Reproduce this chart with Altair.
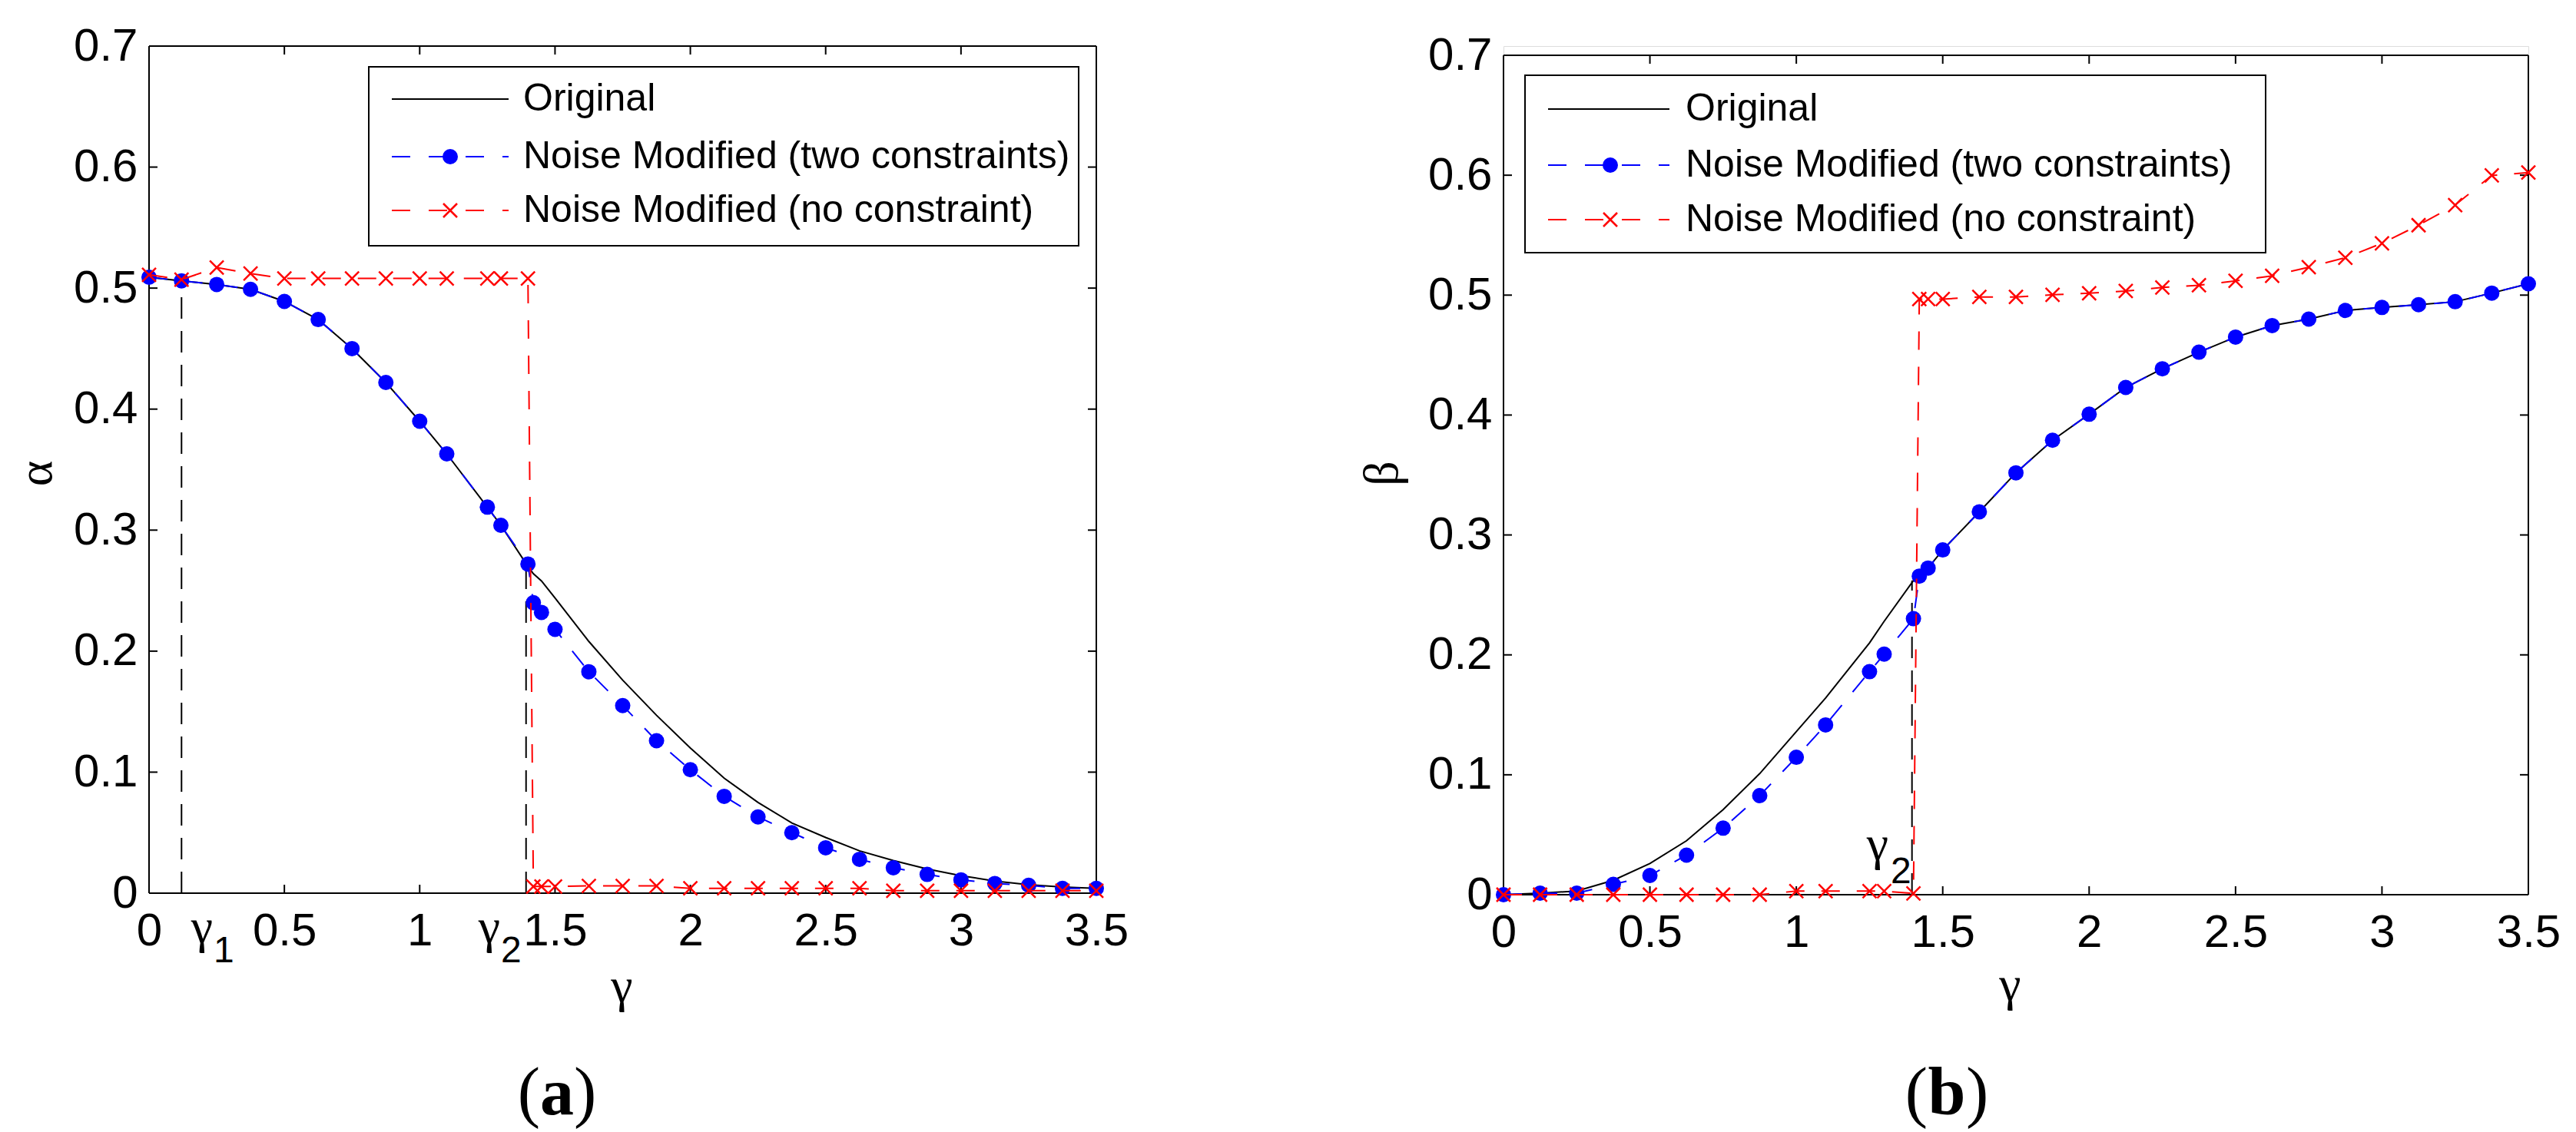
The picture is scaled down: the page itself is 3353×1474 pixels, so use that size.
import altair as alt
import pandas as pd

# ---------------- data ----------------
gamma_a = [0, 0.12, 0.25, 0.375, 0.5, 0.625, 0.75, 0.875, 1.0, 1.1, 1.25, 1.3, 1.4,
           1.42, 1.45, 1.5, 1.625, 1.75, 1.875, 2.0, 2.125, 2.25, 2.375, 2.5,
           2.625, 2.75, 2.875, 3.0, 3.125, 3.25, 3.375, 3.5]
alpha_original = [0.509, 0.506, 0.503, 0.499, 0.489, 0.474, 0.450, 0.422, 0.390, 0.363, 0.319, 0.304, 0.270,
                  0.264, 0.258, 0.244, 0.208, 0.176, 0.147, 0.120, 0.095, 0.075, 0.058, 0.046,
                  0.035, 0.027, 0.020, 0.0145, 0.010, 0.007, 0.005, 0.004]
alpha_two = [0.509, 0.506, 0.503, 0.499, 0.489, 0.474, 0.450, 0.422, 0.390, 0.363, 0.319, 0.304, 0.272,
             0.240, 0.232, 0.218, 0.183, 0.155, 0.126, 0.102, 0.080, 0.063, 0.050, 0.0375,
             0.028, 0.021, 0.0155, 0.011, 0.008, 0.0065, 0.004, 0.004]
alpha_none = [0.511, 0.507, 0.517, 0.512, 0.508, 0.508, 0.508, 0.508, 0.508, 0.508, 0.508, 0.508, 0.508,
              0.0055, 0.0055, 0.0055, 0.006, 0.006, 0.006, 0.004, 0.004, 0.004, 0.004, 0.004,
              0.004, 0.002, 0.002, 0.002, 0.002, 0.002, 0.002, 0.002]

gamma_b = [0, 0.125, 0.25, 0.375, 0.5, 0.625, 0.75, 0.875, 1.0, 1.1, 1.25, 1.3, 1.4,
           1.42, 1.45, 1.5, 1.625, 1.75, 1.875, 2.0, 2.125, 2.25, 2.375, 2.5,
           2.625, 2.75, 2.875, 3.0, 3.125, 3.25, 3.375, 3.5]
beta_original = [0, 0.0013, 0.003, 0.012, 0.026, 0.045, 0.071, 0.101, 0.136, 0.164, 0.210, 0.228, 0.262,
                 0.2657, 0.2724, 0.2875, 0.3193, 0.3518, 0.379, 0.4007, 0.423, 0.4386, 0.4524, 0.465,
                 0.4746, 0.48, 0.4872, 0.4897, 0.492, 0.4945, 0.5017, 0.5095]
beta_two = [0, 0.0013, 0.0013, 0.0086, 0.016, 0.033, 0.0555, 0.0826, 0.1146, 0.1416, 0.186, 0.2006, 0.2302,
            0.2657, 0.2724, 0.2875, 0.3193, 0.3518, 0.379, 0.4007, 0.423, 0.4386, 0.4524, 0.465,
            0.4746, 0.48, 0.4872, 0.4897, 0.492, 0.4945, 0.5017, 0.5095]
beta_none = [0, 0, 0, 0, 0, 0, 0, 0, 0.003, 0.003, 0.003, 0.003, 0.001,
             0.4967, 0.4967, 0.4967, 0.4985, 0.4985, 0.5003, 0.5016, 0.5034, 0.5064, 0.5082, 0.5119,
             0.5161, 0.5233, 0.5312, 0.5432, 0.5583, 0.5751, 0.5998, 0.6022]

x_ticks = [0, 0.5, 1, 1.5, 2, 2.5, 3, 3.5]
y_ticks = [0, 0.1, 0.2, 0.3, 0.4, 0.5, 0.6, 0.7]
x_max = 3.5
y_max = 0.7

# dashed markers of gamma1 / gamma2
vline_a_x = [0.12, 1.393]
vline_a_top = [0.506, 0.268]
vline_b_x = [1.395]
vline_b_top = [0.262]

legend_labels = ["Original", "Noise Modified (two constraints)", "Noise Modified (no constraint)"]

SANS = "Liberation Sans"
SERIF = "Liberation Serif"
XMARK = "M-1,-1L1,1M-1,1L1,-1"
DOT_SIZE = 400
X_SIZE = 324


def panel(gam, orig, two, none, ytitle, width, height, ydom_max, geo):
    X = alt.X("g:Q", scale=alt.Scale(domain=[0, x_max], nice=False, zero=False),
              axis=alt.Axis(values=x_ticks, format="~g", ticks=False, domain=False, grid=False,
                            labelFont=SANS, labelFontSize=60, labelColor="black",
                            labelPadding=geo["xlabpad"], labelFlush=False, labelOverlap=False,
                            title="γ", titleFont=SERIF, titleFontSize=64, titleFontWeight="normal",
                            titleColor="black", titleX=geo["xtx"], titleY=geo["xty"],
                            titleAlign="center", titleBaseline="alphabetic"))
    Y = alt.Y("v:Q", scale=alt.Scale(domain=[0, ydom_max], nice=False, zero=False),
              axis=alt.Axis(values=y_ticks, format="~g", ticks=False, domain=False, grid=False,
                            labelFont=SANS, labelFontSize=60, labelColor="black",
                            labelPadding=15, labelFlush=False, labelOverlap=False,
                            title=ytitle, titleFont=SERIF, titleFontSize=64, titleFontWeight="normal",
                            titleColor="black", titleX=geo["ytx"], titleY=geo["yty"],
                            titleAngle=270, titleAlign="center", titleBaseline="middle"))

    d_orig = pd.DataFrame({"g": gam, "v": orig})
    d_two = pd.DataFrame({"g": gam, "v": two})
    d_none = pd.DataFrame({"g": gam, "v": none})

    frame_df = pd.DataFrame({"g": [0, 0, 0, x_max], "g2": [x_max, x_max, 0, x_max],
                             "v": [0, y_max, 0, 0], "v2": [0, y_max, y_max, y_max]})
    frame = alt.Chart(frame_df).mark_rule(color="black", strokeWidth=2).encode(
        x=X, x2="g2:Q", y=Y, y2="v2:Q")

    xt_bot = alt.Chart(pd.DataFrame({"g": x_ticks, "v": [0] * len(x_ticks)})).mark_tick(
        orient="vertical", size=11, thickness=2, color="black", yOffset=-5.5, opacity=1).encode(x=X, y=Y)
    xt_top = alt.Chart(pd.DataFrame({"g": x_ticks, "v": [y_max] * len(x_ticks)})).mark_tick(
        orient="vertical", size=11, thickness=2, color="black", yOffset=5.5, opacity=1).encode(x=X, y=Y)
    yt_left = alt.Chart(pd.DataFrame({"g": [0] * len(y_ticks), "v": y_ticks})).mark_tick(
        orient="horizontal", size=11, thickness=2, color="black", xOffset=5.5, opacity=1).encode(x=X, y=Y)
    yt_right = alt.Chart(pd.DataFrame({"g": [x_max] * len(y_ticks), "v": y_ticks})).mark_tick(
        orient="horizontal", size=11, thickness=2, color="black", xOffset=-5.5, opacity=1).encode(x=X, y=Y)

    vdf = pd.DataFrame({"g": geo["vx"], "v": [0] * len(geo["vx"]), "v2": geo["vtop"]})
    vlines = alt.Chart(vdf).mark_rule(color="black", strokeWidth=2, strokeDash=[28, 16]).encode(
        x=X, y=Y, y2="v2:Q")

    l_orig = alt.Chart(d_orig).mark_line(color="black", strokeWidth=2).encode(x=X, y=Y)
    l_two = alt.Chart(d_two).mark_line(color="#0000ff", strokeWidth=2, strokeDash=[24, 22]).encode(x=X, y=Y)
    p_two = alt.Chart(d_two).mark_point(shape="circle", filled=True, size=DOT_SIZE, color="#0000ff",
                                        opacity=1).encode(x=X, y=Y)
    l_none = alt.Chart(d_none).mark_line(color="#ff0000", strokeWidth=2, strokeDash=[24, 22]).encode(x=X, y=Y)
    p_none = alt.Chart(d_none).mark_point(shape=XMARK, filled=False, size=X_SIZE, color="#ff0000",
                                          strokeWidth=2.5, opacity=1).encode(x=X, y=Y)

    one = pd.DataFrame({"k": [0]})
    lg = geo["legend"]
    box = alt.Chart(one).mark_rect(fill="white", stroke="black", strokeWidth=2).encode(
        x=alt.value(lg["x0"]), x2=alt.value(lg["x1"]), y=alt.value(lg["y0"]), y2=alt.value(lg["y1"]))
    rows = lg["rows"]
    lg_layers = [box]
    lg_layers.append(alt.Chart(one).mark_rule(color="black", strokeWidth=2).encode(
        x=alt.value(lg["lx0"]), x2=alt.value(lg["lx1"]), y=alt.value(rows[0])))
    lg_layers.append(alt.Chart(one).mark_rule(color="#0000ff", strokeWidth=2, strokeDash=[24, 24]).encode(
        x=alt.value(lg["lx0"]), x2=alt.value(lg["lx1"]), y=alt.value(rows[1])))
    lg_layers.append(alt.Chart(one).mark_point(shape="circle", filled=True, size=DOT_SIZE, color="#0000ff",
                                               opacity=1).encode(
        x=alt.value(lg["mx"]), y=alt.value(rows[1])))
    lg_layers.append(alt.Chart(one).mark_rule(color="#ff0000", strokeWidth=2, strokeDash=[24, 24]).encode(
        x=alt.value(lg["lx0"]), x2=alt.value(lg["lx1"]), y=alt.value(rows[2])))
    lg_layers.append(alt.Chart(one).mark_point(shape=XMARK, filled=False, size=X_SIZE, color="#ff0000",
                                               strokeWidth=2.5, opacity=1).encode(
        x=alt.value(lg["mx"]), y=alt.value(rows[2])))
    for lab, ry in zip(legend_labels, rows):
        lg_layers.append(alt.Chart(pd.DataFrame({"t": [lab]})).mark_text(
            font=SANS, fontSize=50, color="black", align="left", baseline="middle").encode(
            x=alt.value(lg["tx"]), y=alt.value(ry), text="t:N"))

    txt_layers = []
    for item in geo["texts"]:
        txt, tx, ty, font, size, weight, align = item
        txt_layers.append(alt.Chart(pd.DataFrame({"t": [txt]})).mark_text(
            font=font, fontSize=size, fontWeight=weight, color="black", align=align,
            baseline="alphabetic").encode(x=alt.value(tx), y=alt.value(ty), text="t:N"))

    layers = [frame, xt_bot, xt_top, yt_left, yt_right, vlines, l_orig, l_two, p_two,
              l_none, p_none] + lg_layers + txt_layers
    return alt.layer(*layers).properties(width=width, height=height)


geo_a = {
    "xlabpad": 20, "xtx": 615, "xty": 140, "ytx": -147, "yty": 556,
    "vx": vline_a_x, "vtop": vline_a_top,
    "legend": {"x0": 286, "x1": 1210, "y0": 27, "y1": 260, "rows": [69, 144, 214],
               "lx0": 316, "lx1": 468, "mx": 392, "tx": 487},
    "texts": [
        ("γ", 69, 1167, SERIF, 64, "normal", "center"),
        ("1", 84, 1193, SANS, 48, "normal", "left"),
        ("γ", 443, 1167, SERIF, 64, "normal", "center"),
        ("2", 458, 1193, SANS, 48, "normal", "left"),
        ("(", 509, 1391, SERIF, 88, "normal", "right"),
        ("a", 531, 1391, SERIF, 88, "bold", "center"),
        (")", 553, 1391, SERIF, 88, "normal", "left"),
    ],
}
geo_b = {
    "xlabpad": 20, "xtx": 659, "xty": 136, "ytx": -158, "yty": 556,
    "vx": vline_b_x, "vtop": vline_b_top,
    "legend": {"x0": 28, "x1": 992, "y0": 38, "y1": 269, "rows": [82, 155, 226],
               "lx0": 58, "lx1": 216, "mx": 139, "tx": 237},
    "texts": [
        ("γ", 487, 1059, SERIF, 64, "normal", "center"),
        ("2", 504, 1090, SANS, 48, "normal", "left"),
        ("(", 552, 1391, SERIF, 88, "normal", "right"),
        ("b", 577, 1391, SERIF, 88, "bold", "center"),
        (")", 602, 1391, SERIF, 88, "normal", "left"),
    ],
}

left = panel(gamma_a, alpha_original, alpha_two, alpha_none, "α", 1233, 1103, y_max, geo_a)
right = panel(gamma_b, beta_original, beta_two, beta_none, "β", 1334, 1105, y_max * 1105 / 1093, geo_b)

chart = alt.hconcat(left, right, spacing=296).properties(
    padding={"left": 6, "top": 21, "right": 0, "bottom": 0}
).configure_view(stroke=None).configure(background="white")

chart.save("out.html", embed_options={"renderer": "svg", "actions": False})
